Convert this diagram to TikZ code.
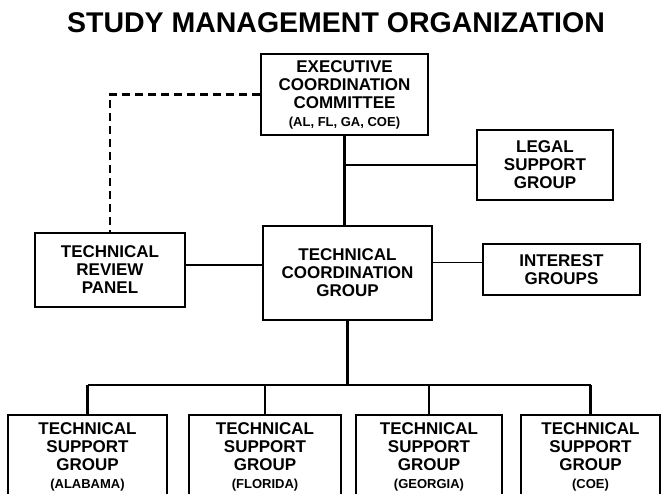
\documentclass[tikz,border=0pt]{standalone}
\usepackage{fontspec}
\setmainfont{Liberation Sans}
\usetikzlibrary{positioning}
\newcommand{\subtag}[1]{{\fontsize{13}{14}\selectfont #1}}

\begin{document}
\begin{tikzpicture}[
    x=1pt, y=-1pt,
    box/.style={rectangle, draw, line width=1.6pt, align=center, inner sep=2pt, font=\fontsize{17}{18}\selectfont\bfseries},
    headline/.style={font=\fontsize{28.5}{30}\selectfont\bfseries},
    link/.style={line width=1.3pt},
    trunk/.style={line width=2.2pt},
    dashlink/.style={line width=2.4pt, dash pattern=on 8pt off 5pt}
]
\useasboundingbox (0,0) rectangle (661,493);

% Title
\node[headline] (head) at (336,23) {STUDY MANAGEMENT ORGANIZATION};

% Executive level
\node[box, minimum width=167pt, minimum height=81pt] (exec) at (344.5,94.5) {EXECUTIVE\\COORDINATION\\COMMITTEE\\\subtag{(AL, FL, GA, COE)}};
\node[box, minimum width=136pt, minimum height=70pt] (legal) at (545,165) {LEGAL\\SUPPORT\\GROUP};

% Coordination level
\node[box, minimum width=169pt, minimum height=94pt] (tcg) at (347.5,273) {TECHNICAL\\COORDINATION\\GROUP};
\node[box, minimum width=150pt, minimum height=74pt] (trp) at (110,270) {TECHNICAL\\REVIEW\\PANEL};
\node[box, minimum width=157pt, minimum height=51pt] (interest) at (561.5,269.5) {INTEREST\\GROUPS};

% Support groups
\node[box, minimum width=159pt, minimum height=84pt] (b1) at (87.5,457) {TECHNICAL\\SUPPORT\\GROUP\\\subtag{(ALABAMA)}};
\node[box, minimum width=152pt, minimum height=84pt] (b2) at (265,457) {TECHNICAL\\SUPPORT\\GROUP\\\subtag{(FLORIDA)}};
\node[box, minimum width=146pt, minimum height=84pt] (b3) at (429,457) {TECHNICAL\\SUPPORT\\GROUP\\\subtag{(GEORGIA)}};
\node[box, minimum width=139pt, minimum height=84pt] (b4) at (590.5,457) {TECHNICAL\\SUPPORT\\GROUP\\\subtag{(COE)}};

\coordinate (bus) at (347.5,385);

% Links
\draw[trunk] (exec.south) -- (exec.south |- tcg.north);
\draw[link] (exec.south |- legal.west) -- (legal.west);
\draw[dashlink] (exec.west) -| (trp.north);
\draw[link] ([yshift=5pt]trp.east) -- ([yshift=5pt]trp.east -| tcg.west);
\draw[link] ([yshift=7pt]interest.west) -- ([yshift=7pt]interest.west -| tcg.east);

% Bus to support groups
\draw[trunk] (tcg.south) -- (tcg.south |- bus);
\draw[trunk] (b1.north |- bus) -- (b4.north |- bus);
\foreach \b in {b1,b2,b3,b4}
    \draw[trunk] (\b.north) -- (\b.north |- bus);

\end{tikzpicture}
\end{document}
